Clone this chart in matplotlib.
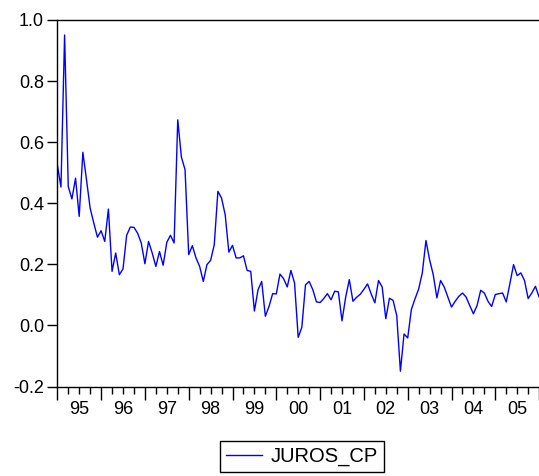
import matplotlib
matplotlib.use("Agg")
import matplotlib.pyplot as plt
from matplotlib.ticker import FixedLocator, NullFormatter
import matplotlib.transforms as mtransforms

plt.rcParams['font.family'] = ['Liberation Sans', 'DejaVu Sans']

series_name = "JUROS_CP"
start_year = 1995
juros_cp = [
    # 1995
    0.526, 0.453, 0.951, 0.455, 0.414, 0.482, 0.357, 0.567, 0.477, 0.384, 0.335, 0.289,
    # 1996
    0.310, 0.275, 0.381, 0.177, 0.237, 0.166, 0.185, 0.295, 0.322, 0.321, 0.302, 0.270,
    # 1997
    0.202, 0.275, 0.237, 0.193, 0.242, 0.197, 0.272, 0.295, 0.270, 0.673, 0.551, 0.510,
    # 1998
    0.232, 0.261, 0.221, 0.193, 0.144, 0.199, 0.213, 0.264, 0.439, 0.417, 0.362, 0.240,
    # 1999
    0.262, 0.221, 0.221, 0.228, 0.180, 0.177, 0.047, 0.117, 0.144, 0.030, 0.062, 0.104,
    # 2000
    0.103, 0.168, 0.153, 0.126, 0.180, 0.139, -0.039, -0.006, 0.133, 0.144, 0.117, 0.077,
    # 2001
    0.075, 0.088, 0.104, 0.084, 0.112, 0.110, 0.015, 0.092, 0.150, 0.079, 0.092, 0.102,
    # 2002
    0.118, 0.136, 0.103, 0.074, 0.147, 0.126, 0.022, 0.089, 0.082, 0.032, -0.150, -0.028,
    # 2003
    -0.041, 0.052, 0.087, 0.119, 0.172, 0.278, 0.215, 0.166, 0.090, 0.147, 0.126, 0.093,
    # 2004
    0.060, 0.079, 0.095, 0.106, 0.093, 0.065, 0.038, 0.065, 0.115, 0.106, 0.079, 0.062,
    # 2005
    0.101, 0.104, 0.106, 0.077, 0.137, 0.199, 0.163, 0.172, 0.147, 0.088, 0.106, 0.128,
    # 2006
    0.093,
]
year_labels = ["95", "96", "97", "98", "99", "00", "01", "02", "03", "04", "05"]
y_ticks = [-0.2, 0.0, 0.2, 0.4, 0.6, 0.8, 1.0]

W, H = 539, 476
fig = plt.figure(figsize=(W / 100, H / 100), dpi=100)
left, right, top, bottom = 57.3, 539.1, 20.0, 386.5
ax = fig.add_axes([left / W, 1 - bottom / H, (right - left) / W, (bottom - top) / H])

months = list(range(len(juros_cp)))
ax.plot(months, juros_cp, color="#0000ff", lw=1.0, label=series_name)

ax.set_xlim(0, len(juros_cp) - 1)
ax.set_ylim(-0.2, 1.0)

ax.yaxis.set_major_locator(FixedLocator(y_ticks))
ax.set_yticklabels([f"{v:.1f}" for v in y_ticks])
ax.tick_params(axis='y', direction='out', length=7, width=1, labelsize=13, pad=2.5)

n_years = len(year_labels)
ax.xaxis.set_major_locator(FixedLocator([12 * i for i in range(n_years + 1)]))
ax.xaxis.set_minor_locator(FixedLocator([3 * i for i in range(4 * n_years + 1) if i % 4 != 0]))
ax.xaxis.set_major_formatter(NullFormatter())
ax.tick_params(axis='x', which='major', direction='out', length=9, width=1)
ax.tick_params(axis='x', which='minor', direction='out', length=5, width=1)

trans = mtransforms.blended_transform_factory(ax.transData, fig.transFigure)
for i, lab in enumerate(year_labels):
    ax.text(12 * i + 6, 1 - 410 / H, lab, transform=trans, ha='center', va='center', fontsize=13)

for s in ['left', 'bottom', 'top']:
    ax.spines[s].set_linewidth(1.0)
    ax.spines[s].set_color('black')
ax.spines['right'].set_visible(False)

leg = fig.legend(loc='center', bbox_to_anchor=(301.7 / W, 1 - 456.7 / H), frameon=True,
                 fancybox=False, edgecolor='black', framealpha=1, fontsize=14.5,
                 handlelength=1.8, handletextpad=0.4, borderpad=0.3)
leg.get_frame().set_linewidth(1.0)

fig.savefig("out.png", dpi=100)
